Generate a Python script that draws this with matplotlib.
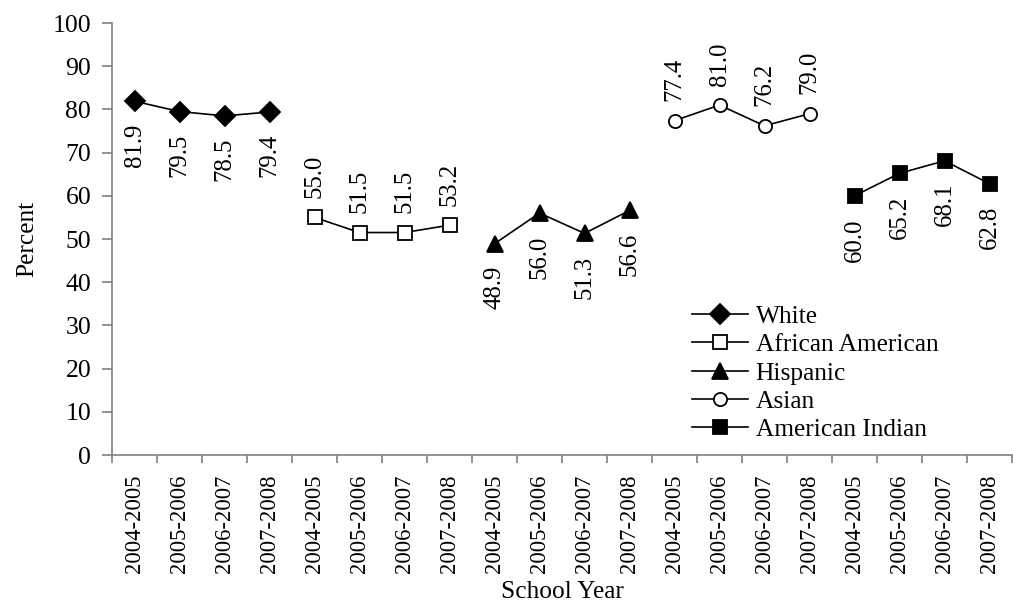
import matplotlib
matplotlib.use('Agg')
import matplotlib.pyplot as plt
import numpy as np

plt.rcParams['font.family'] = ['Liberation Serif', 'DejaVu Serif']

# データ
years = ['2004-2005', '2005-2006', '2006-2007', '2007-2008']
groups = ['White', 'African American', 'Hispanic', 'Asian', 'American Indian']
white = [81.9, 79.5, 78.5, 79.4]
african_american = [55.0, 51.5, 51.5, 53.2]
hispanic = [48.9, 56.0, 51.3, 56.6]
asian = [77.4, 81.0, 76.2, 79.0]
american_indian = [60.0, 65.2, 68.1, 62.8]

series = [white, african_american, hispanic, asian, american_indian]
# マーカーとラベル位置
styles = [
    dict(marker='D', mfc='black', ms=10, label_pos='below'),
    dict(marker='s', mfc='white', ms=9.5, label_pos='above'),
    dict(marker='^', mfc='black', ms=11, label_pos='below'),
    dict(marker='o', mfc='white', ms=9.5, label_pos='above'),
    dict(marker='s', mfc='black', ms=9.5, label_pos='below'),
]

fig = plt.figure(figsize=(10.13, 6.12), dpi=100)
ax = fig.add_axes([112 / 1013, 1 - 455 / 612, 900 / 1013, (455 - 23) / 612])

n = len(years)
for i, (vals, name, st) in enumerate(zip(series, groups, styles)):
    x = np.arange(n) + i * n
    ax.plot(x, vals, color='black', lw=1.2, marker=st['marker'], ms=st['ms'],
            mfc=st['mfc'], mec='black', mew=1.3, label=name)
    for xi, v in zip(x, vals):
        if st['label_pos'] == 'above':
            ax.annotate(f'{v:.1f}', (xi, v), xytext=(0, 14), textcoords='offset points',
                        rotation=90, ha='center', va='bottom', fontsize=17.8)
        else:
            ax.annotate(f'{v:.1f}', (xi, v), xytext=(0, -16), textcoords='offset points',
                        rotation=90, ha='center', va='top', fontsize=17.8)

total = n * len(groups)
ax.set_xlim(-0.5, total - 0.5)
ax.set_ylim(0, 100)
ax.set_yticks(np.arange(0, 101, 10))
ax.tick_params(axis='y', labelsize=18.5, length=7, width=1.2, color='#808080', pad=8)

# 目盛りは区切り位置、ラベルは中央
ax.set_xticks(np.arange(-0.5, total, 1.0))
ax.set_xticklabels([])
ax.set_xticks(np.arange(total), minor=True)
ax.set_xticklabels(years * len(groups), minor=True, rotation=90, fontsize=16.3)
ax.tick_params(axis='x', which='major', length=6, width=1.2, color='#808080')
ax.tick_params(axis='x', which='minor', length=0, pad=14)

for side in ['top', 'right']:
    ax.spines[side].set_visible(False)
for side in ['left', 'bottom']:
    ax.spines[side].set_color('#808080')
    ax.spines[side].set_linewidth(1.2)

ax.set_ylabel('Percent', fontsize=18.3, labelpad=10)
ax.set_xlabel('School Year', fontsize=18.3, labelpad=6)

ax.legend(loc='upper left', bbox_to_anchor=(692 / 1013, 1 - 305 / 612), bbox_transform=fig.transFigure,
          frameon=False, fontsize=18.3, handlelength=2.2, handletextpad=0.3,
          labelspacing=0.22, borderpad=0, borderaxespad=0)

fig.savefig('out.png', dpi=100)
